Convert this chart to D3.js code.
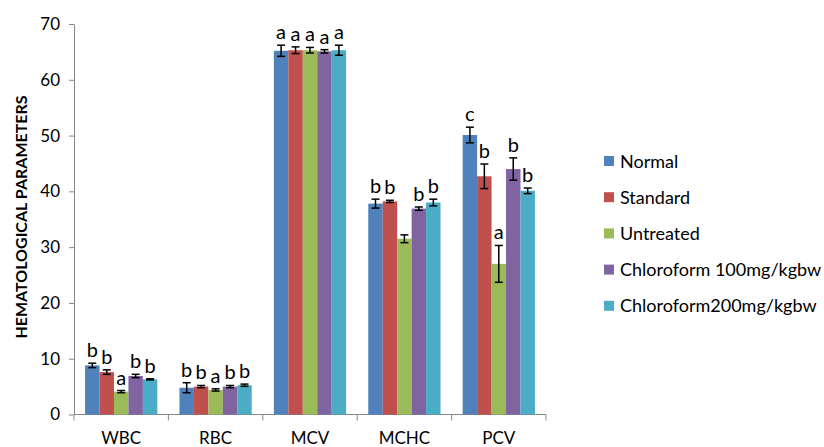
<!DOCTYPE html>
<html>
<head>
<meta charset="utf-8">
<script src="https://cdn.jsdelivr.net/npm/d3@7"></script>
<style>
html,body{margin:0;padding:0;background:#fff;}
svg{display:block;}
text{font-family:Lato,"Open Sans",sans-serif;fill:#000;}
</style>
</head>
<body>
<svg id="chart" width="824" height="447"></svg>
<script>
const categories = ["WBC", "RBC", "MCV", "MCHC", "PCV"];
const seriesNames = ["Normal", "Standard", "Untreated", "Chloroform 100mg/kgbw", "Chloroform200mg/kgbw"];
const colors = ["#4F81BD", "#C0504D", "#9BBB59", "#8064A2", "#4BACC6"];
// values per series, in category order
const normal      = [8.8, 4.8, 65.2, 37.8, 50.1];
const standard    = [7.6, 5.0, 65.3, 38.2, 42.7];
const untreated   = [4.1, 4.4, 65.3, 31.5, 27.0];
const chloro100   = [6.9, 5.0, 65.1, 36.9, 44.0];
const chloro200   = [6.3, 5.25, 65.3, 38.0, 40.1];
// error (± SE)
const normalErr    = [0.4, 0.9, 1.0, 0.8, 1.4];
const standardErr  = [0.4, 0.2, 0.6, 0.2, 2.2];
const untreatedErr = [0.2, 0.2, 0.5, 0.7, 3.3];
const chloro100Err = [0.3, 0.2, 0.3, 0.3, 2.0];
const chloro200Err = [0.1, 0.2, 0.9, 0.6, 0.5];
// significance letters
const normalLbl    = ["b", "b", "a", "b", "c"];
const standardLbl  = ["b", "b", "a", "b", "b"];
const untreatedLbl = ["a", "a", "a", "",  "a"];
const chloro100Lbl = ["b", "b", "a", "b", "b"];
const chloro200Lbl = ["b", "b", "a", "b", "b"];
const yTicks = [0, 10, 20, 30, 40, 50, 60, 70];
const yTitle = "HEMATOLOGICAL PARAMETERS";

const valuesAll = [normal, standard, untreated, chloro100, chloro200];
const errAll = [normalErr, standardErr, untreatedErr, chloro100Err, chloro200Err];
const lblAll = [normalLbl, standardLbl, untreatedLbl, chloro100Lbl, chloro200Lbl];

const svg = d3.select("#chart");
const mLeft = 74, mRight = 546, mTop = 24, mBottom = 414.5;

const x0 = d3.scaleBand().domain(categories).range([mLeft, mRight]).paddingInner(0).paddingOuter(0);
const x1 = d3.scaleBand().domain(seriesNames).range([0, x0.bandwidth()]).paddingInner(0).paddingOuter(0.766);
const y = d3.scaleLinear().domain([0, 70]).range([mBottom, mTop]);

// y axis
const yAxis = d3.axisLeft(y).tickValues(yTicks).tickSize(5).tickPadding(9).tickSizeOuter(0);
const gy = svg.append("g").attr("transform", `translate(${mLeft},0)`).call(yAxis);
gy.select(".domain").attr("stroke", "#868686");
gy.selectAll(".tick line").attr("stroke", "#868686");
gy.selectAll(".tick text").attr("font-size", 17).attr("font-family", "Lato, sans-serif").attr("fill", "#000");

// x axis with ticks at category boundaries
const gx = svg.append("g").attr("transform", `translate(0,${mBottom})`);
gx.append("line").attr("x1", mLeft).attr("x2", mRight).attr("stroke", "#868686");
const bounds = categories.map(c => x0(c)).concat([mRight]);
gx.selectAll("line.tk").data(bounds).join("line").attr("class", "tk")
  .attr("x1", d => d).attr("x2", d => d).attr("y1", 0).attr("y2", 6).attr("stroke", "#868686");
gx.selectAll("text").data(categories).join("text")
  .attr("x", d => x0(d) + x0.bandwidth() / 2).attr("y", 29)
  .attr("text-anchor", "middle").attr("font-size", 17).text(d => d);

// bars
const groups = svg.append("g").selectAll("g").data(categories).join("g")
  .attr("transform", d => `translate(${x0(d)},0)`);
const cells = groups.selectAll("g.cell")
  .data((c, ci) => seriesNames.map((s, si) => ({ s, si, v: valuesAll[si][ci], e: errAll[si][ci], l: lblAll[si][ci] })))
  .join("g").attr("class", "cell");
cells.append("rect")
  .attr("x", d => x1(d.s)).attr("width", x1.bandwidth())
  .attr("y", d => y(d.v)).attr("height", d => y(0) - y(d.v))
  .attr("fill", d => colors[d.si]);
// error bars
const cap = 4;
cells.append("line").attr("x1", d => x1(d.s) + x1.bandwidth() / 2).attr("x2", d => x1(d.s) + x1.bandwidth() / 2)
  .attr("y1", d => y(d.v - d.e)).attr("y2", d => y(d.v + d.e)).attr("stroke", "#000").attr("stroke-width", 1.5);
cells.append("line").attr("x1", d => x1(d.s) + x1.bandwidth() / 2 - cap).attr("x2", d => x1(d.s) + x1.bandwidth() / 2 + cap)
  .attr("y1", d => y(d.v + d.e)).attr("y2", d => y(d.v + d.e)).attr("stroke", "#000").attr("stroke-width", 1.5);
cells.append("line").attr("x1", d => x1(d.s) + x1.bandwidth() / 2 - cap).attr("x2", d => x1(d.s) + x1.bandwidth() / 2 + cap)
  .attr("y1", d => y(d.v - d.e)).attr("y2", d => y(d.v - d.e)).attr("stroke", "#000").attr("stroke-width", 1.5);
// letters
cells.append("text")
  .attr("x", d => x1(d.s) + x1.bandwidth() / 2)
  .attr("y", d => y(d.v + d.e) - 6)
  .attr("text-anchor", "middle").attr("font-size", 20).text(d => d.l);

// y title
svg.append("text").attr("transform", "translate(27,217) rotate(-90)")
  .attr("text-anchor", "middle").attr("font-size", 16).attr("font-weight", "bold").text(yTitle);

// legend
const lg = svg.append("g").attr("transform", "translate(604,161)");
const li = lg.selectAll("g").data(seriesNames).join("g").attr("transform", (d, i) => `translate(0,${i * 36.2})`);
li.append("rect").attr("x", 0).attr("y", -5).attr("width", 10).attr("height", 10).attr("fill", (d, i) => colors[i]);
li.append("text").attr("x", 16).attr("y", 6.5).attr("font-size", 18).text(d => d);
</script>
</body>
</html>
